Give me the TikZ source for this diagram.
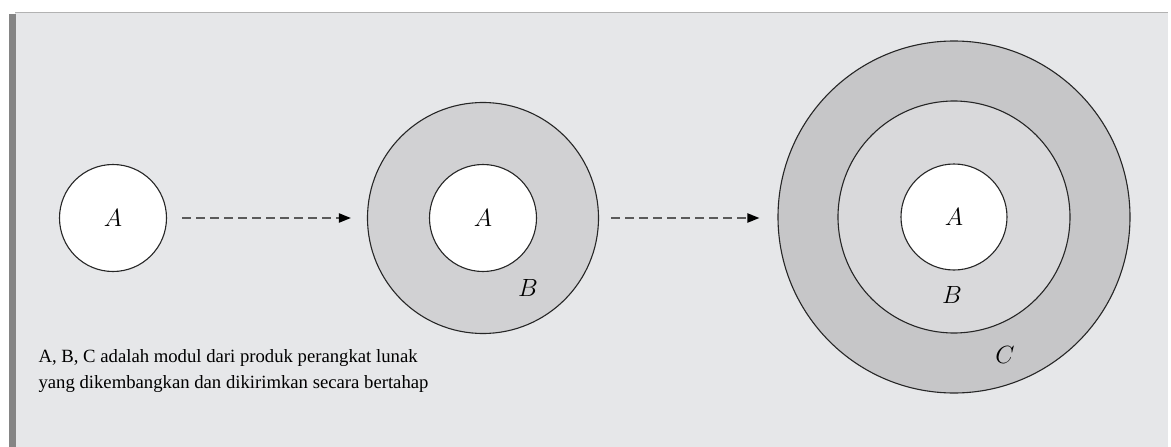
\documentclass[tikz,border=0pt]{standalone}
\usepackage{fontspec}
\setmainfont{Liberation Serif}
\usetikzlibrary{arrows.meta}

\definecolor{panelgray}{HTML}{E6E7E9}
\definecolor{ringB}{HTML}{D1D1D3}
\definecolor{ringBlight}{HTML}{D9D9DB}
\definecolor{ringC}{HTML}{C6C6C8}
\definecolor{dashgray}{HTML}{5A5A5A}

\begin{document}
\begin{tikzpicture}[x=1pt, y=-1pt]
\tikzstyle{every node}=[font=\fontsize{27}{30}\selectfont]
\tikzstyle{modul}=[circle, draw=black!85, line width=1.1pt, inner sep=0pt]
\tikzstyle{tahap}=[dashgray, line width=2pt, dash pattern=on 9pt off 5pt,
    -{Triangle[length=12pt, width=9pt, black]}]

\useasboundingbox (0, 0) rectangle (1171, 447);

% panel
\fill[panelgray] (15, 12) rectangle (1168, 447);
\draw[black!30, line width=1.5pt] (15, 12.5) -- (1168, 12.5);
\fill[black!48] (9, 14) rectangle (16, 447);

% tahap 1
\node[modul, fill=white, minimum size=107pt] (A1) at (113, 218) {$A$};

% tahap 2
\node[modul, fill=ringB, minimum size=231pt] (B2) at (483, 218) {};
\node[modul, fill=white, minimum size=107pt] (A2) at (483, 218) {$A$};
    \node at (528, 288) {$B$};

% tahap 3
\node[modul, fill=ringC, minimum size=352pt] (C3) at (954, 217) {};
\node[modul, fill=ringBlight, minimum size=232pt] (B3) at (954, 217) {};
\node[modul, fill=white, minimum size=106pt] (A3) at (954, 217) {$A$};
    \node at (952, 295) {$B$};
    \node at (1005, 355) {$C$};

\draw[tahap, shorten <=15pt, shorten >=16pt] (A1.east) -- (B2.west |- A1.east);
\draw[tahap, shorten <=12pt, shorten >=18pt] (B2.east) -- (C3.west |- B2.east);

\node[anchor=north west, align=left, font=\fontsize{18.7}{26}\selectfont] (ket) at (35, 346)
    {A, B, C adalah modul dari produk perangkat lunak\\
     yang dikembangkan dan dikirimkan secara bertahap};

\end{tikzpicture}
\end{document}
